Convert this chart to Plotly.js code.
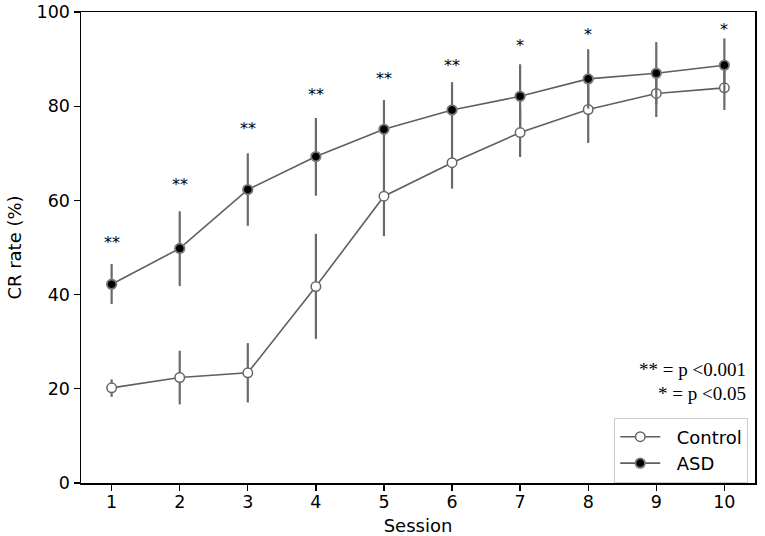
<!DOCTYPE html>
<html><head><meta charset="utf-8">
<script src="https://cdn.plot.ly/plotly-3.0.1.min.js"></script>
<style>body{margin:0;background:#fff}#c{width:765px;height:536px}</style>
</head><body><div id="c"></div>
<script>
const sessions = [1,2,3,4,5,6,7,8,9,10];
const controlMean  = [20.2, 22.4, 23.4, 41.7, 60.9, 68.0, 74.4, 79.3, 82.7, 83.9];
const controlUpper = [22.0, 28.1, 29.7, 52.9, 69.4, 73.5, 79.6, 86.4, 87.7, 88.6];
const controlLower = [18.3, 16.7, 17.1, 30.6, 52.4, 62.5, 69.2, 72.2, 77.7, 79.2];
const asdMean  = [42.2, 49.8, 62.3, 69.3, 75.1, 79.2, 82.1, 85.8, 87.0, 88.7];
const asdUpper = [46.5, 57.7, 70.0, 77.5, 81.3, 85.1, 88.9, 92.1, 93.6, 94.4];
const asdLower = [38.0, 41.8, 54.6, 61.0, 68.9, 73.3, 75.3, 79.5, 80.4, 83.0];
const starSessions = [1,2,3,4,5,6,7,8,10];
const starY = [51.0, 63.3, 75.2, 82.4, 85.9, 88.7, 92.9, 95.2, 96.3];
const starText = ['**','**','**','**','**','**','*','*','*'];

const gray = '#5f5f5f';
function errs(mean, up, lo){
  return {type:'data', symmetric:false,
    array: up.map((u,i)=>u-mean[i]), arrayminus: mean.map((m,i)=>m-lo[i]),
    color:'#6a6a6a', thickness:2.2, width:0};
}
const traces = [
  {x:sessions, y:controlMean, name:'\u00a0\u00a0Control', type:'scatter', mode:'lines+markers',
   line:{color:gray, width:1.6},
   marker:{size:9.5, color:'#ffffff', line:{color:'#666', width:1.5}},
   error_y: errs(controlMean, controlUpper, controlLower)},
  {x:sessions, y:asdMean, name:'\u00a0\u00a0ASD', type:'scatter', mode:'lines+markers',
   line:{color:gray, width:1.6},
   marker:{size:9.5, color:'#000000', line:{color:'#777', width:1.8}},
   error_y: errs(asdMean, asdUpper, asdLower)}
];
const annotations = starSessions.map((s,i)=>({x:s, y:starY[i], xref:'x', yref:'y', text:starText[i],
  showarrow:false, font:{family:'DejaVu Sans', size:16, color:'#000'}}));
annotations.push({xref:'paper', yref:'paper', x:0.99, y:0.240, xanchor:'right', yanchor:'middle',
  text:'** = p <0.001', showarrow:false, font:{family:'Liberation Serif', size:19, color:'#000'}});
annotations.push({xref:'paper', yref:'paper', x:0.99, y:0.189, xanchor:'right', yanchor:'middle',
  text:'* = p <0.05', showarrow:false, font:{family:'Liberation Serif', size:19, color:'#000'}});

const layout = {
  width:765, height:536, margin:{l:81, r:10, t:12, b:53},
  paper_bgcolor:'#fff', plot_bgcolor:'#fff',
  font:{family:'DejaVu Sans', size:17, color:'#000'},
  showlegend:true,
  legend:{x:0.99, y:0.139, xanchor:'right', yanchor:'top', bordercolor:'#cccccc', borderwidth:1,
    bgcolor:'rgba(255,255,255,0.8)', font:{size:18}, tracegroupgap:0, itemwidth:40},
  xaxis:{range:[0.55,10.45], tickvals:sessions, ticktext:sessions.map(String), ticks:'outside', ticklen:6,
    tickwidth:1.3, tickcolor:'#000', showgrid:false, zeroline:false, showline:true, mirror:true,
    linecolor:'#000', linewidth:1.5, tickfont:{size:17.5}, ticklabelstandoff:-4,
    title:{text:'Session', font:{size:18}, standoff:9}},
  yaxis:{range:[0,100], dtick:20, ticks:'outside', ticklen:6, tickwidth:1.3, tickcolor:'#000',
    showgrid:false, zeroline:false, showline:true, mirror:true, linecolor:'#000', linewidth:1.5,
    tickfont:{size:17.5}, title:{text:'CR rate (%)', font:{size:18}, standoff:10}},
  annotations: annotations
};
Plotly.newPlot('c', traces, layout, {staticPlot:true});
</script></body></html>
